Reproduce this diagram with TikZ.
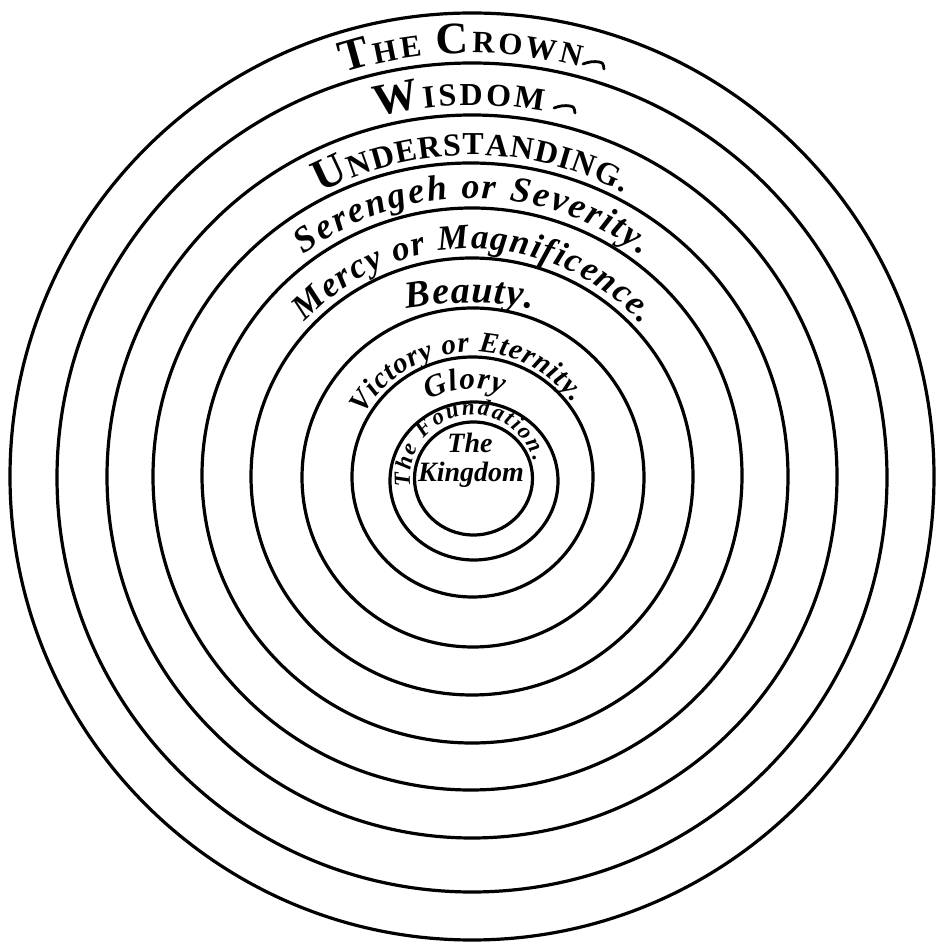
\documentclass[tikz,border=0pt]{standalone}
\usepackage{fontspec}
\setmainfont{Liberation Serif}
\usetikzlibrary{decorations.text}
\newcommand\CrA{\bfseries\fontsize{45}{45}\selectfont}
\newcommand\CrB{\bfseries\fontsize{31}{31}\selectfont}
\newcommand\WiA{\bfseries\fontsize{45}{45}\selectfont}
\newcommand\WiB{\bfseries\fontsize{32}{32}\selectfont}
\newcommand\UnA{\bfseries\fontsize{45}{45}\selectfont}
\newcommand\UnB{\bfseries\fontsize{32}{32}\selectfont}
\newcommand\SeF{\bfseries\itshape\fontsize{36}{36}\selectfont}
\newcommand\MeF{\bfseries\itshape\fontsize{35}{35}\selectfont}
\newcommand\BeF{\bfseries\itshape\fontsize{38}{38}\selectfont}
\newcommand\ViF{\bfseries\itshape\fontsize{29}{29}\selectfont}
\newcommand\GlF{\bfseries\itshape\fontsize{31}{31}\selectfont}
\newcommand\FoF{\bfseries\itshape\fontsize{23}{23}\selectfont}
\newcommand\ringtext[6]{%
  \path[decorate,decoration={text along path,text align={fit to path},text={#6}}]
    (#1,#2) ++(#4:#3) arc[start angle=#4,end angle=#5,radius=#3];}
\tikzset{
  ring/.style={line width=3.2pt},
  kingtext/.style={font=\bfseries\itshape\fontsize{28}{28}\selectfont,inner sep=0pt},
  flourish/.style={line width=2.8pt,line cap=round,line join=round}
}
\begin{document}
\begin{tikzpicture}[x=1pt,y=1pt]
\useasboundingbox (0,0) rectangle (935,943);
\fill[white] (0,0) rectangle (935,943);
% rings
\draw[ring] (472,466.5) ellipse[x radius=462,y radius=463.5];
\draw[ring] (472,465.5) ellipse[x radius=415,y radius=414.5];
\draw[ring] (472,466.5) ellipse[x radius=365,y radius=361.5];
\draw[ring] (470.5,466.5) ellipse[x radius=317.5,y radius=313.5];
\draw[ring] (472,467.5) ellipse[x radius=270,y radius=267.5];
\draw[ring] (472,466.5) ellipse[x radius=221,y radius=218.5];
\draw[ring] (473,465.5) ellipse[x radius=171,y radius=169.5];
\draw[ring] (472.5,466) ellipse[x radius=120.5,y radius=120];
\draw[ring] (474,462) ellipse[x radius=84,y radius=79];
\draw[ring] (473.5,464.5) ellipse[x radius=59,y radius=56.5];
% labels
\ringtext{472}{466}{424}{107.7}{75.2}{|\CrA|T|\CrB|HE |\CrA|C|\CrB|ROWN}
\ringtext{472}{466}{372}{104.8}{79}{|\WiA|W|\WiB|ISDOM}
\ringtext{472}{466}{322}{118}{62}{|\UnA|U|\UnB|NDERSTANDING.}
\ringtext{472}{466}{279}{127}{52.5}{|\SeF|Serengeh or Severity.}
\ringtext{472}{466}{228}{137}{42}{|\MeF|Mercy or Magnificence.}
\ringtext{470}{290}{350}{100.4}{79.6}{|\BeF|Beauty.}
\ringtext{472}{466}{125}{150}{36}{|\ViF|Victory or Eternity.}
\ringtext{472}{466}{88}{119.5}{69.5}{|\GlF|Glory}
\ringtext{473}{465}{63}{188}{15}{|\FoF|The Foundation.}
\node[kingtext,anchor=base] (the) at (470,490) {The};
\node[kingtext,anchor=base] (kingdom) at (471,461) {Kingdom};
% flourishes
\draw[flourish] (583,879) .. controls (588,881) and (594,882) .. (599,881) .. controls (603,880) .. (604,874);
\draw[flourish] (554,835) .. controls (559,837) and (565,838) .. (570,837) .. controls (574,836) .. (575,830);
\end{tikzpicture}
\end{document}
